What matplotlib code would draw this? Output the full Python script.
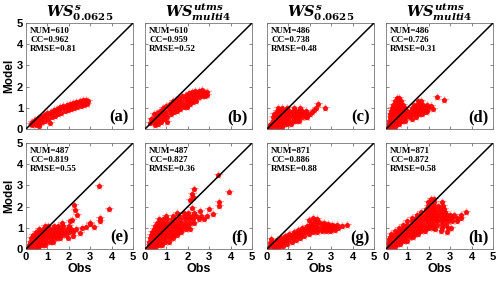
import matplotlib
matplotlib.use("Agg")
import matplotlib.pyplot as plt

plt.rcParams['mathtext.fontset'] = 'custom'
plt.rcParams['mathtext.it'] = 'DejaVu Serif:italic:bold'
plt.rcParams['mathtext.rm'] = 'DejaVu Serif:bold'
plt.rcParams['mathtext.bf'] = 'DejaVu Serif:bold'

# ---- values (obs, model) ----
pts_a = [(0.35, 0.28), (0.50, 0.37), (0.65, 0.46), (0.80, 0.55), (0.95, 0.63), (1.10, 0.70),
         (1.25, 0.78), (1.40, 0.85), (1.55, 0.92), (1.70, 0.97), (1.85, 1.02), (2.00, 1.08),
         (2.15, 1.13), (2.30, 1.17), (2.45, 1.21), (2.60, 1.25), (2.75, 1.29), (2.90, 1.33),
         (0.40, 0.42), (0.55, 0.50), (0.70, 0.58), (0.85, 0.66), (1.00, 0.74), (1.15, 0.82),
         (1.30, 0.89), (1.45, 0.96), (1.60, 1.03), (1.75, 1.08), (1.90, 1.13), (2.05, 1.19),
         (2.20, 1.24), (2.35, 1.28), (2.50, 1.32), (2.65, 1.35), (2.80, 1.38),
         (0.45, 0.18), (0.60, 0.25), (0.75, 0.32), (0.90, 0.40), (1.05, 0.48), (1.20, 0.55),
         (1.35, 0.62), (1.50, 0.70), (1.65, 0.77), (1.80, 0.83), (1.95, 0.89), (2.10, 0.95),
         (2.25, 1.00), (2.40, 1.05), (2.55, 1.09), (2.70, 1.13), (2.85, 1.18),
         (0.25, 0.22), (0.30, 0.35), (0.28, 0.18), (1.10, 0.27), (0.60, 0.15)]

pts_b = [(0.40, 0.69), (0.55, 0.77), (0.70, 0.86), (0.85, 0.97), (1.00, 1.08), (1.15, 1.20),
         (1.30, 1.31), (1.45, 1.39), (1.60, 1.47), (1.75, 1.54), (1.90, 1.61), (2.05, 1.68),
         (2.20, 1.73), (2.35, 1.78), (2.50, 1.80), (2.65, 1.82),
         (0.35, 0.49), (0.50, 0.56), (0.65, 0.64), (0.80, 0.75), (0.95, 0.86), (1.10, 0.99),
         (1.25, 1.10), (1.40, 1.18), (1.55, 1.26), (1.70, 1.34), (1.85, 1.41), (2.00, 1.48),
         (2.15, 1.55), (2.30, 1.61), (2.45, 1.66), (2.60, 1.70), (2.75, 1.73), (2.90, 1.75),
         (0.40, 0.33), (0.55, 0.40), (0.70, 0.49), (0.85, 0.60), (1.00, 0.71), (1.15, 0.84),
         (1.30, 0.94), (1.45, 1.02), (1.60, 1.10), (1.75, 1.18), (1.90, 1.25), (2.05, 1.32),
         (2.20, 1.39), (2.35, 1.45), (2.50, 1.50), (2.65, 1.54), (2.80, 1.57), (2.90, 1.59),
         (0.45, 0.18), (0.60, 0.25), (0.75, 0.34), (0.90, 0.45), (1.05, 0.58), (1.20, 0.70),
         (1.35, 0.79), (1.50, 0.87), (1.65, 0.95), (1.80, 1.03), (1.95, 1.10), (2.10, 1.18),
         (2.25, 1.26), (2.40, 1.33),
         (1.05, 0.33), (1.95, 1.05), (0.25, 0.30), (0.30, 0.45)]

pts_c = [(0.10, 0.10), (0.25, 0.10), (0.40, 0.10), (0.55, 0.10), (0.70, 0.10),
         (0.20, 0.25), (0.35, 0.25), (0.50, 0.25), (0.65, 0.25), (0.80, 0.25), (0.95, 0.25), (1.10, 0.25),
         (0.30, 0.40), (0.45, 0.40), (0.60, 0.40), (0.75, 0.40), (0.90, 0.40), (1.05, 0.40),
         (1.20, 0.40), (1.35, 0.40), (1.50, 0.40),
         (0.30, 0.55), (0.45, 0.55), (0.60, 0.55), (0.75, 0.55), (0.90, 0.55), (1.05, 0.55),
         (1.20, 0.55), (1.35, 0.55), (1.50, 0.55), (1.65, 0.55), (1.80, 0.55),
         (0.35, 0.70), (0.50, 0.70), (0.65, 0.70), (0.80, 0.70), (0.95, 0.70), (1.10, 0.70),
         (1.25, 0.70), (1.40, 0.70), (1.55, 0.70), (1.70, 0.70), (1.85, 0.70), (2.00, 0.70),
         (0.45, 0.85), (0.60, 0.85), (0.75, 0.85), (0.90, 0.85), (1.05, 0.85), (1.20, 0.85),
         (1.35, 0.85), (1.50, 0.85), (1.65, 0.85), (1.80, 0.85),
         (0.50, 0.97), (0.70, 0.97), (0.95, 0.97), (1.25, 0.97), (1.55, 0.97),
         (2.20, 0.90), (2.40, 1.17), (2.69, 1.00), (1.86, 0.58), (2.10, 0.80), (2.30, 1.00),
         (0.05, 0.05), (0.15, 0.20)]

pts_d = [(0.10, 0.10), (0.25, 0.10), (0.40, 0.10),
         (0.15, 0.25), (0.30, 0.25), (0.45, 0.25), (0.60, 0.25),
         (0.15, 0.40), (0.30, 0.40), (0.45, 0.40), (0.60, 0.40), (0.75, 0.40), (0.90, 0.40),
         (0.20, 0.55), (0.35, 0.55), (0.50, 0.55), (0.65, 0.55), (0.80, 0.55), (0.95, 0.55), (1.10, 0.55),
         (0.20, 0.70), (0.35, 0.70), (0.50, 0.70), (0.65, 0.70), (0.80, 0.70), (0.95, 0.70),
         (1.10, 0.70), (1.25, 0.70), (1.40, 0.70), (1.55, 0.70), (1.70, 0.70),
         (0.25, 0.85), (0.40, 0.85), (0.55, 0.85), (0.70, 0.85), (0.85, 0.85), (1.00, 0.85),
         (1.15, 0.85), (1.30, 0.85), (1.45, 0.85), (1.60, 0.85), (1.75, 0.85), (1.90, 0.85),
         (0.30, 1.00), (0.45, 1.00), (0.60, 1.00), (0.75, 1.00), (0.90, 1.00), (1.20, 1.00),
         (1.35, 1.00), (1.50, 1.00), (1.65, 1.00), (1.80, 1.00), (1.95, 1.00),
         (0.35, 1.15), (0.50, 1.15), (0.65, 1.15), (0.80, 1.15), (1.30, 1.15), (1.45, 1.15),
         (1.60, 1.15), (1.75, 1.15), (1.90, 1.15),
         (0.40, 1.30), (0.55, 1.30), (0.70, 1.30), (1.50, 1.30), (1.65, 1.30),
         (0.50, 1.45), (0.60, 1.45),
         (2.40, 1.50), (2.69, 1.36), (1.86, 0.81), (2.10, 1.10), (2.20, 0.95), (1.40, 0.55), (1.20, 0.45)]

pts_e = [(0.10, 0.05), (0.25, 0.05), (0.40, 0.05), (0.55, 0.05),
         (0.15, 0.20), (0.30, 0.20), (0.45, 0.20), (0.60, 0.20), (0.75, 0.20), (0.90, 0.20),
         (0.20, 0.35), (0.35, 0.35), (0.50, 0.35), (0.65, 0.35), (0.80, 0.35), (0.95, 0.35),
         (1.10, 0.35), (1.25, 0.35),
         (0.25, 0.50), (0.40, 0.50), (0.55, 0.50), (0.70, 0.50), (0.85, 0.50), (1.00, 0.50),
         (1.15, 0.50), (1.30, 0.50), (1.45, 0.50), (1.60, 0.50),
         (0.35, 0.65), (0.50, 0.65), (0.65, 0.65), (0.80, 0.65), (0.95, 0.65), (1.10, 0.65),
         (1.25, 0.65), (1.40, 0.65), (1.55, 0.65), (1.70, 0.65), (1.85, 0.65),
         (0.45, 0.80), (0.60, 0.80), (0.75, 0.80), (0.90, 0.80), (1.05, 0.80), (1.20, 0.80),
         (1.35, 0.80), (1.50, 0.80), (1.65, 0.80), (1.80, 0.80), (2.00, 0.80), (2.20, 0.80),
         (0.60, 0.95), (0.80, 0.95), (0.95, 0.95), (1.10, 0.95), (1.25, 0.95), (1.40, 0.95),
         (1.55, 0.95), (1.70, 0.95), (1.90, 0.95), (2.10, 0.95), (2.35, 0.95),
         (0.90, 1.10), (1.05, 1.10), (1.30, 1.10), (1.50, 1.10), (1.75, 1.10), (2.00, 1.10),
         (3.40, 2.99), (3.87, 1.87), (3.47, 1.47), (3.47, 1.33), (3.00, 1.23), (2.82, 1.05),
         (2.25, 2.08), (2.30, 1.84), (2.38, 1.60), (2.14, 1.37), (2.60, 1.00), (2.50, 0.75),
         (2.20, 0.60), (1.95, 0.50), (2.05, 1.30), (1.70, 1.25), (2.97, 1.17), (3.20, 1.06)]

pts_f = [(0.15, 0.05), (0.30, 0.05), (0.45, 0.05),
         (0.20, 0.20), (0.35, 0.20), (0.50, 0.20), (0.65, 0.20), (0.80, 0.20),
         (0.20, 0.35), (0.35, 0.35), (0.50, 0.35), (0.65, 0.35), (0.80, 0.35), (0.95, 0.35), (1.10, 0.35),
         (0.25, 0.50), (0.40, 0.50), (0.55, 0.50), (0.70, 0.50), (0.85, 0.50), (1.00, 0.50),
         (1.15, 0.50), (1.30, 0.50),
         (0.30, 0.65), (0.45, 0.65), (0.60, 0.65), (0.75, 0.65), (0.90, 0.65), (1.05, 0.65),
         (1.20, 0.65), (1.35, 0.65), (1.50, 0.65),
         (0.35, 0.80), (0.50, 0.80), (0.65, 0.80), (0.80, 0.80), (0.95, 0.80), (1.10, 0.80),
         (1.25, 0.80), (1.40, 0.80), (1.55, 0.80), (1.70, 0.80),
         (0.40, 0.95), (0.55, 0.95), (0.70, 0.95), (0.85, 0.95), (1.00, 0.95), (1.15, 0.95),
         (1.30, 0.95), (1.45, 0.95), (1.60, 0.95), (1.75, 0.95), (1.90, 0.95), (2.10, 0.95),
         (0.45, 1.10), (0.60, 1.10), (0.75, 1.10), (0.90, 1.10), (1.05, 1.10), (1.20, 1.10),
         (1.35, 1.10), (1.50, 1.10), (1.65, 1.10), (1.80, 1.10), (2.00, 1.10),
         (0.55, 1.25), (0.70, 1.25), (0.85, 1.25), (1.00, 1.25), (1.15, 1.25), (1.30, 1.25),
         (1.45, 1.25), (1.60, 1.25), (1.75, 1.25), (1.90, 1.25), (2.10, 1.25), (2.30, 1.25),
         (0.65, 1.40), (0.85, 1.40), (1.05, 1.40), (1.25, 1.40), (1.45, 1.40), (1.65, 1.40),
         (1.85, 1.40), (2.05, 1.40), (2.25, 1.40), (2.50, 1.40), (2.75, 1.40),
         (1.00, 1.55), (1.30, 1.55), (1.60, 1.55), (1.80, 1.55), (2.00, 1.55), (2.20, 1.55),
         (2.40, 1.55), (2.60, 1.55), (2.90, 1.55),
         (1.50, 1.70), (1.80, 1.70), (2.00, 1.70), (2.30, 1.70),
         (3.40, 3.49), (2.31, 2.84), (2.19, 2.60), (2.10, 2.29), (2.25, 2.45), (3.93, 2.67),
         (3.45, 2.20), (3.45, 2.05), (3.00, 1.87), (3.17, 1.66), (2.55, 1.77), (2.20, 1.95)]

pts_g = [(0.30, 0.15), (0.50, 0.25), (0.70, 0.35), (0.90, 0.45), (1.10, 0.55), (1.30, 0.65),
         (1.50, 0.72), (1.70, 0.82), (1.90, 0.92), (2.10, 1.02), (2.30, 1.05), (2.50, 1.05),
         (2.70, 1.03), (2.90, 1.00), (3.10, 0.98), (3.30, 0.98),
         (0.25, 0.35), (0.45, 0.42), (0.65, 0.52), (0.85, 0.60), (1.05, 0.70), (1.25, 0.80),
         (1.45, 0.88), (1.65, 0.98), (1.85, 1.10), (2.05, 1.22), (2.25, 1.30), (2.45, 1.28),
         (2.65, 1.22), (2.85, 1.18), (3.05, 1.15), (3.25, 1.12),
         (0.35, 0.03), (0.55, 0.08), (0.75, 0.16), (0.95, 0.25), (1.15, 0.34), (1.35, 0.44),
         (1.55, 0.53), (1.75, 0.62), (1.95, 0.70), (2.15, 0.78), (2.35, 0.82), (2.55, 0.84),
         (2.75, 0.85), (2.95, 0.85),
         (0.40, 0.11), (0.60, 0.21), (0.80, 0.31), (1.00, 0.41), (1.20, 0.51), (1.40, 0.60),
         (1.60, 0.68), (1.80, 0.78), (2.00, 0.88), (2.20, 0.95), (2.40, 0.96), (2.60, 0.96),
         (2.80, 0.93), (3.00, 0.90), (3.20, 0.89),
         (0.35, 0.28), (0.55, 0.36), (0.75, 0.46), (0.95, 0.56), (1.15, 0.66), (1.35, 0.76),
         (1.55, 0.84), (1.75, 0.95), (1.95, 1.08), (2.15, 1.18), (2.35, 1.20), (2.55, 1.18),
         (2.75, 1.14), (2.95, 1.10), (3.15, 1.07),
         (1.95, 1.35), (2.15, 1.45), (2.35, 1.42),
         (3.73, 1.13), (3.50, 1.10), (0.15, 0.30), (0.20, 0.45), (0.10, 0.10)]

pts_h = [(0.10, 0.10), (0.25, 0.10), (0.40, 0.10),
         (0.20, 0.25), (0.35, 0.25), (0.50, 0.25), (0.65, 0.25),
         (0.25, 0.40), (0.40, 0.40), (0.55, 0.40), (0.70, 0.40), (0.85, 0.40), (1.00, 0.40),
         (0.20, 0.55), (0.35, 0.55), (0.50, 0.55), (0.65, 0.55), (0.80, 0.55), (0.95, 0.55),
         (1.10, 0.55), (1.25, 0.55),
         (0.25, 0.70), (0.45, 0.70), (0.60, 0.70), (0.75, 0.70), (0.90, 0.70), (1.05, 0.70),
         (1.20, 0.70), (1.35, 0.70), (1.50, 0.70),
         (0.40, 0.85), (0.60, 0.85), (0.75, 0.85), (0.90, 0.85), (1.05, 0.85), (1.20, 0.85),
         (1.35, 0.85), (1.50, 0.85), (1.65, 0.85), (1.80, 0.85),
         (0.60, 1.00), (0.80, 1.00), (0.95, 1.00), (1.10, 1.00), (1.25, 1.00), (1.40, 1.00),
         (1.55, 1.00), (1.70, 1.00), (1.85, 1.00), (2.00, 1.00), (2.20, 1.00), (2.60, 1.00),
         (2.90, 1.00), (3.05, 1.00),
         (0.80, 1.15), (1.00, 1.15), (1.15, 1.15), (1.30, 1.15), (1.45, 1.15), (1.60, 1.15),
         (1.75, 1.15), (1.90, 1.15), (2.05, 1.15), (2.20, 1.15), (2.40, 1.15), (2.60, 1.15), (2.80, 1.15),
         (1.00, 1.30), (1.20, 1.30), (1.35, 1.30), (1.50, 1.30), (1.65, 1.30), (1.80, 1.30),
         (1.95, 1.30), (2.10, 1.30), (2.25, 1.30), (2.40, 1.30), (2.55, 1.30), (2.70, 1.30),
         (2.90, 1.30), (3.10, 1.30), (3.30, 1.30),
         (1.20, 1.45), (1.40, 1.45), (1.55, 1.45), (1.70, 1.45), (1.85, 1.45), (2.00, 1.45),
         (2.15, 1.45), (2.30, 1.45), (2.45, 1.45), (2.60, 1.45), (2.75, 1.45), (2.90, 1.45),
         (3.10, 1.45), (3.30, 1.45), (3.50, 1.45),
         (1.45, 1.60), (1.65, 1.60), (1.80, 1.60), (1.95, 1.60), (2.10, 1.60), (2.25, 1.60),
         (2.40, 1.60), (2.55, 1.60), (2.70, 1.60), (2.85, 1.60), (3.00, 1.60), (3.20, 1.60),
         (1.65, 1.75), (1.85, 1.75), (2.00, 1.75), (2.15, 1.75), (2.30, 1.75), (2.45, 1.75),
         (2.60, 1.75), (2.75, 1.75),
         (1.85, 1.90), (2.00, 1.90), (2.15, 1.90), (2.30, 1.90), (2.50, 1.90), (2.70, 1.90),
         (1.95, 2.05), (2.10, 2.05), (2.25, 2.05), (2.45, 2.05), (2.65, 2.05),
         (1.95, 2.20), (2.10, 2.20), (2.25, 2.20), (2.60, 2.20),
         (2.10, 2.35), (2.25, 2.35),
         (3.72, 1.76), (3.50, 1.60), (2.86, 0.82), (2.56, 0.86), (2.30, 0.95), (0.10, 0.30), (0.15, 0.45)]

panel_pts = [pts_a, pts_b, pts_c, pts_d, pts_e, pts_f, pts_g, pts_h]
nums = [610, 610, 486, 486, 487, 487, 871, 871]
ccs = ['0.962', '0.959', '0.738', '0.726', '0.819', '0.827', '0.886', '0.872']
rmses = ['0.81', '0.52', '0.48', '0.31', '0.55', '0.36', '0.88', '0.58']
tags = ['(a)', '(b)', '(c)', '(d)', '(e)', '(f)', '(g)', '(h)']
titles = [r'$WS^{s}_{0.0625}$', r'$WS^{utms}_{multi4}$',
          r'$WS^{s}_{0.0625}$', r'$WS^{utms}_{multi4}$']
ticks = [0, 1, 2, 3, 4, 5]

W, H = 500, 283
lefts = [26, 145, 267, 386]
tops = [23, 143]
aw, ah = 107, 106

fig = plt.figure(figsize=(5, 2.83), dpi=100)
tick_font = dict(family='Liberation Sans', weight='bold', size=8)

for i, pts in enumerate(panel_pts):
    r, c = divmod(i, 4)
    ax = fig.add_axes([lefts[c] / W, 1 - (tops[r] + ah) / H, aw / W, ah / H])
    obs = [p[0] for p in pts]
    mod = [p[1] for p in pts]
    # pink star halo + solid core, so the dense clouds read as filled
    ax.plot(obs, mod, '*', color='#ff5050', ms=5.5, mew=0.8, alpha=0.45, zorder=2)
    ax.plot(obs, mod, 'o', color='red', ms=3.6, mew=0, alpha=0.9, zorder=2)
    ax.plot([0, 5], [0, 5], color='black', lw=1.1, zorder=3)
    ax.set_xlim(0, 5)
    ax.set_ylim(0, 5)
    ax.set_xticks(ticks)
    ax.set_yticks(ticks)
    ax.tick_params(direction='in', length=2, width=0.5, top=True, right=True,
                   colors='#555555', labelcolor='black', pad=2,
                   labelleft=(c == 0), labelbottom=(r == 1))
    for lab in ax.get_xticklabels() + ax.get_yticklabels():
        lab.set_fontproperties(tick_font)
    for sp in ax.spines.values():
        sp.set_color('#777777')
        sp.set_linewidth(0.6)
    ax.text(0.04, 0.965, 'NUM=%d\nCC=%s\nRMSE=%s' % (nums[i], ccs[i], rmses[i]),
            transform=ax.transAxes, ha='left', va='top', fontsize=6.5,
            family='Liberation Serif', weight='bold', linespacing=1.2)
    ax.text(0.96, 0.03, tags[i], transform=ax.transAxes, ha='right', va='bottom',
            fontsize=12, family='Liberation Serif', weight='bold')
    if r == 0:
        ax.set_title(titles[c], fontsize=10.5, pad=2)
    if c == 0:
        ax.set_ylabel('Model', family='Liberation Sans', weight='bold', fontsize=8.5, labelpad=1)
    if r == 1:
        ax.set_xlabel('Obs', family='Liberation Sans', weight='bold', fontsize=9, labelpad=1)

fig.savefig('out.png', dpi=100)
